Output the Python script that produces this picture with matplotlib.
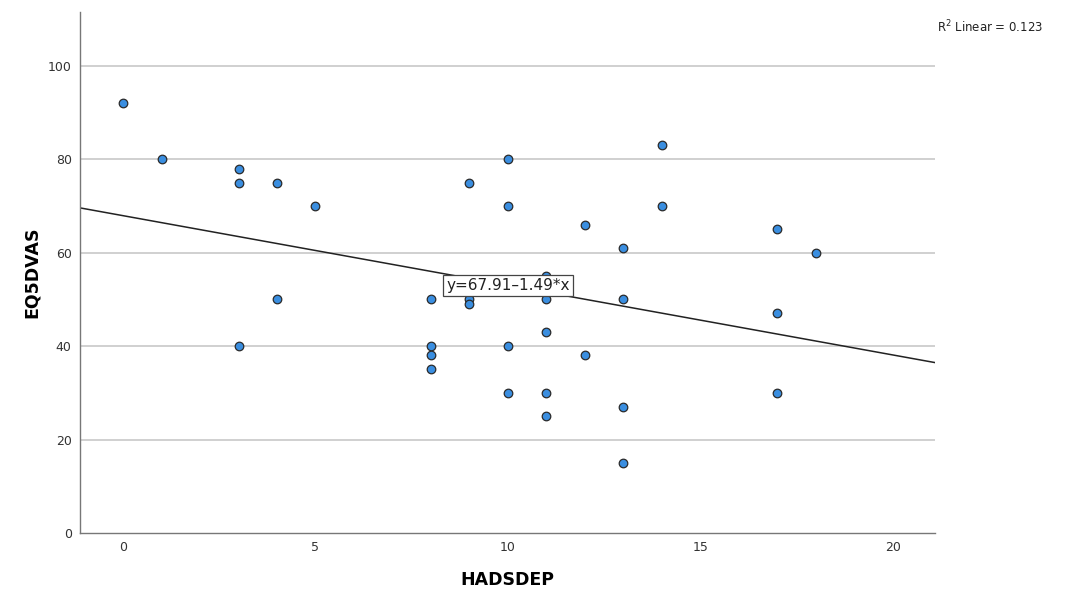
import matplotlib
matplotlib.use("Agg")
import matplotlib.pyplot as plt
import numpy as np

hadsdep = [0, 1, 3, 3, 3, 4, 4, 5, 8, 8, 8, 8, 9, 9, 9, 10, 10, 10, 10,
           11, 11, 11, 11, 11, 12, 12, 13, 13, 13, 13, 14, 14, 17, 17, 17, 18]
eq5dvas = [92, 80, 78, 75, 40, 75, 50, 70, 50, 40, 38, 35, 75, 50, 49, 80, 70, 40, 30,
           55, 50, 43, 30, 25, 66, 38, 61, 50, 27, 15, 83, 70, 65, 47, 30, 60]
intercept = 67.91
slope = -1.49
r2 = 0.123
x_ticks = [0, 5, 10, 15, 20]
y_ticks = [0, 20, 40, 60, 80, 100]

plt.rcParams['font.family'] = ['DejaVu Sans']
fig = plt.figure(figsize=(10.65, 5.97), dpi=100)
ax = fig.add_axes([80/1065, 64/597, 855/1065, 521/597])

ax.set_xlim(-1.12, 21.1)
ax.set_ylim(0, 111.5)

for yv in y_ticks[1:]:
    ax.axhline(yv, color='#c8c8c8', lw=1.2, zorder=0)

xl = np.array(ax.get_xlim())
ax.plot(xl, intercept + slope * xl, color='#222222', lw=1.1, zorder=2)

ax.scatter(hadsdep, eq5dvas, s=38, facecolor='#3a8ee0', edgecolor='#2a2a2a',
           linewidth=0.9, zorder=3)

ax.text(10, 53, f"y={intercept:.2f}\u2013{abs(slope):.2f}*x", ha='center', va='center',
        fontsize=11, color='#222222', zorder=5,
        bbox=dict(boxstyle='square,pad=0.2', facecolor='white', edgecolor='#444444', lw=0.9))

ax.set_xticks(x_ticks)
ax.set_yticks(y_ticks)
ax.tick_params(axis='both', length=0, labelsize=9, colors='#333333', pad=6)
for s in ['top', 'right']:
    ax.spines[s].set_visible(False)
for s in ['left', 'bottom']:
    ax.spines[s].set_color('#777777')
    ax.spines[s].set_linewidth(1.0)

ax.set_xlabel('HADSDEP', fontsize=12.5, fontweight='bold', labelpad=12)
ax.set_ylabel('EQ5DVAS', fontsize=12.5, fontweight='bold', labelpad=5)

fig.text(937/1065, 1 - 27/597, f"R$^2$ Linear = {r2:.3f}", fontsize=8.5, color='#222222',
         ha='left', va='center')

fig.savefig('out.png', dpi=100)
